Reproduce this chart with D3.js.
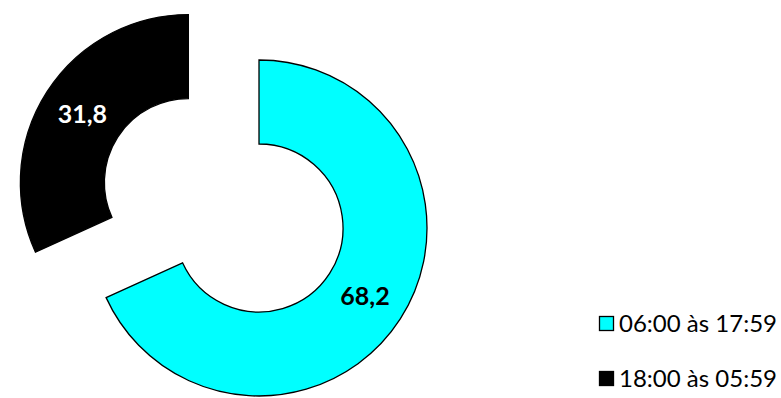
<!DOCTYPE html>
<html>
<head>
<meta charset="utf-8">
<script src="https://cdn.jsdelivr.net/npm/d3@7"></script>
<style>
  html, body { margin: 0; padding: 0; background: #fff; }
  svg { display: block; }
</style>
</head>
<body>
<svg id="chart" width="781" height="398"></svg>
<script>
const categories = ["06:00 às 17:59", "18:00 às 05:59"];
const values = [68.2, 31.8];
const labels = ["68,2", "31,8"];
const colors = ["#00FFFF", "#000000"];
const labelColors = ["#000000", "#FFFFFF"];
const exploded = [false, true];

const svg = d3.select("#chart");
const cx = 259, cy = 228, outerR = 168, innerR = 84, explodeDist = 84;
const fontFam = "Lato, 'Open Sans', sans-serif";

const data = categories.map((c, i) => ({ cat: c, value: values[i], label: labels[i], color: colors[i], lc: labelColors[i], ex: exploded[i] }));

const pie = d3.pie().sort(null).value(d => d.value).startAngle(0).endAngle(2 * Math.PI);
const arc = d3.arc().innerRadius(innerR).outerRadius(outerR);

const g = svg.append("g").attr("transform", `translate(${cx},${cy})`);

const slices = g.selectAll("g.slice").data(pie(data)).join("g")
  .attr("class", "slice")
  .attr("transform", d => {
    if (!d.data.ex) return null;
    const a = (d.startAngle + d.endAngle) / 2;
    return `translate(${Math.sin(a) * explodeDist},${-Math.cos(a) * explodeDist})`;
  });

slices.append("path")
  .attr("d", arc)
  .attr("fill", d => d.data.color)
  .attr("stroke", "#000")
  .attr("stroke-width", 1.3);

slices.append("text")
  .attr("transform", d => `translate(${arc.centroid(d)})`)
  .attr("text-anchor", "middle")
  .attr("dy", "0.36em")
  .attr("font-family", fontFam)
  .attr("font-weight", "bold")
  .attr("font-size", 25)
  .attr("fill", d => d.data.lc)
  .text(d => d.data.label);

// Legend
const legend = svg.append("g").attr("transform", "translate(599,323)");
const rowH = 55;
const items = legend.selectAll("g").data(data).join("g")
  .attr("transform", (d, i) => `translate(0,${i * rowH})`);
items.append("rect")
  .attr("x", 0.5).attr("y", -6.5)
  .attr("width", 14).attr("height", 14)
  .attr("fill", d => d.color)
  .attr("stroke", "#000").attr("stroke-width", 1.3);
items.append("text")
  .attr("x", 20).attr("y", 0)
  .attr("dy", "0.36em")
  .attr("font-family", fontFam)
  .attr("font-size", 24)
  .attr("fill", "#000")
  .text(d => d.cat);
</script>
</body>
</html>
